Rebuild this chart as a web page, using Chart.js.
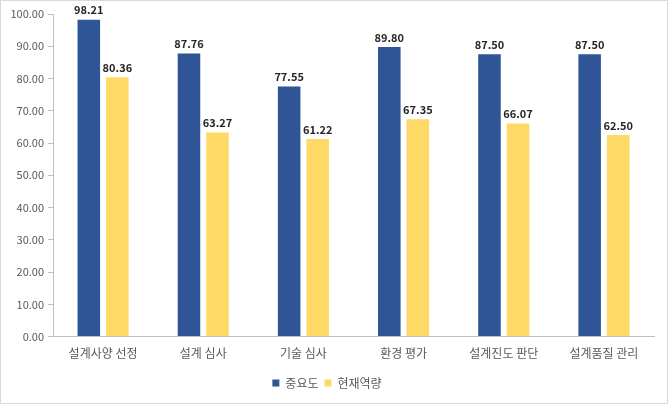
<!DOCTYPE html>
<html><head><meta charset="utf-8">
<script src="https://cdn.jsdelivr.net/npm/chart.js@4"></script>
<style>
html,body{margin:0;padding:0;background:#fff;}
#wrap{position:relative;width:668px;height:404px;}
#frame{position:absolute;left:0;top:0;width:666px;height:402px;border:1px solid #d9d9d9;pointer-events:none;}
canvas{position:absolute;left:0;top:0;}
</style></head>
<body>
<div id="wrap"><canvas id="c" width="668" height="404"></canvas><div id="frame"></div></div>
<script>
const categories = ['설계사양 선정','설계 심사','기술 심사','환경 평가','설계진도 판단','설계품질 관리'];
const importance = [98.21, 87.76, 77.55, 89.80, 87.50, 87.50];
const competence = [80.36, 63.27, 61.22, 67.35, 66.07, 62.50];
const seriesNames = ['중요도','현재역량'];
const yTicks = [0,10,20,30,40,50,60,70,80,90,100];

const FONT = "'Noto Sans CJK KR','Noto Sans',sans-serif";

const labelPlugin = {
  id:'valueLabels',
  afterDatasetsDraw(chart){
    const ctx = chart.ctx;
    ctx.save();
    ctx.font = "bold 11px " + FONT;
    ctx.fillStyle = '#262626';
    ctx.textAlign = 'center';
    ctx.textBaseline = 'bottom';
    chart.data.datasets.forEach((ds,i)=>{
      chart.getDatasetMeta(i).data.forEach((bar,j)=>{
        ctx.fillText(ds.data[j].toFixed(2), bar.x, bar.y - 4);
      });
    });
    ctx.restore();
  }
};

new Chart(document.getElementById('c'), {
  type:'bar',
  data:{
    labels:categories,
    datasets:[
      {label:seriesNames[0], data:importance, backgroundColor:'#2F5597', categoryPercentage:0.57, barPercentage:0.79},
      {label:seriesNames[1], data:competence, backgroundColor:'#FFD966', categoryPercentage:0.57, barPercentage:0.79}
    ]
  },
  options:{
    responsive:false,
    animation:false,
    devicePixelRatio:1,
    layout:{padding:{top:14,right:14,bottom:5,left:0}},
    plugins:{
      legend:{
        position:'bottom',
        labels:{boxWidth:7,boxHeight:7,font:{family:FONT,size:12},color:'#595959',padding:6}
      },
      tooltip:{enabled:false}
    },
    scales:{
      x:{
        grid:{display:false,drawTicks:false},
        border:{color:'#bfbfbf'},
        ticks:{font:{family:FONT,size:12},color:'#595959',padding:10,maxRotation:0}
      },
      y:{
        min:0,max:100,
        afterBuildTicks(axis){ axis.ticks = yTicks.map(v=>({value:v})); },
        afterFit(axis){ axis.width = 53; },
        grid:{display:true,drawOnChartArea:false,drawTicks:true,tickLength:5,color:'#bfbfbf'},
        border:{color:'#bfbfbf'},
        ticks:{font:{family:FONT,size:11},color:'#595959',padding:4,callback:v=>Number(v).toFixed(2)}
      }
    }
  },
  plugins:[labelPlugin]
});
</script>
</body></html>
